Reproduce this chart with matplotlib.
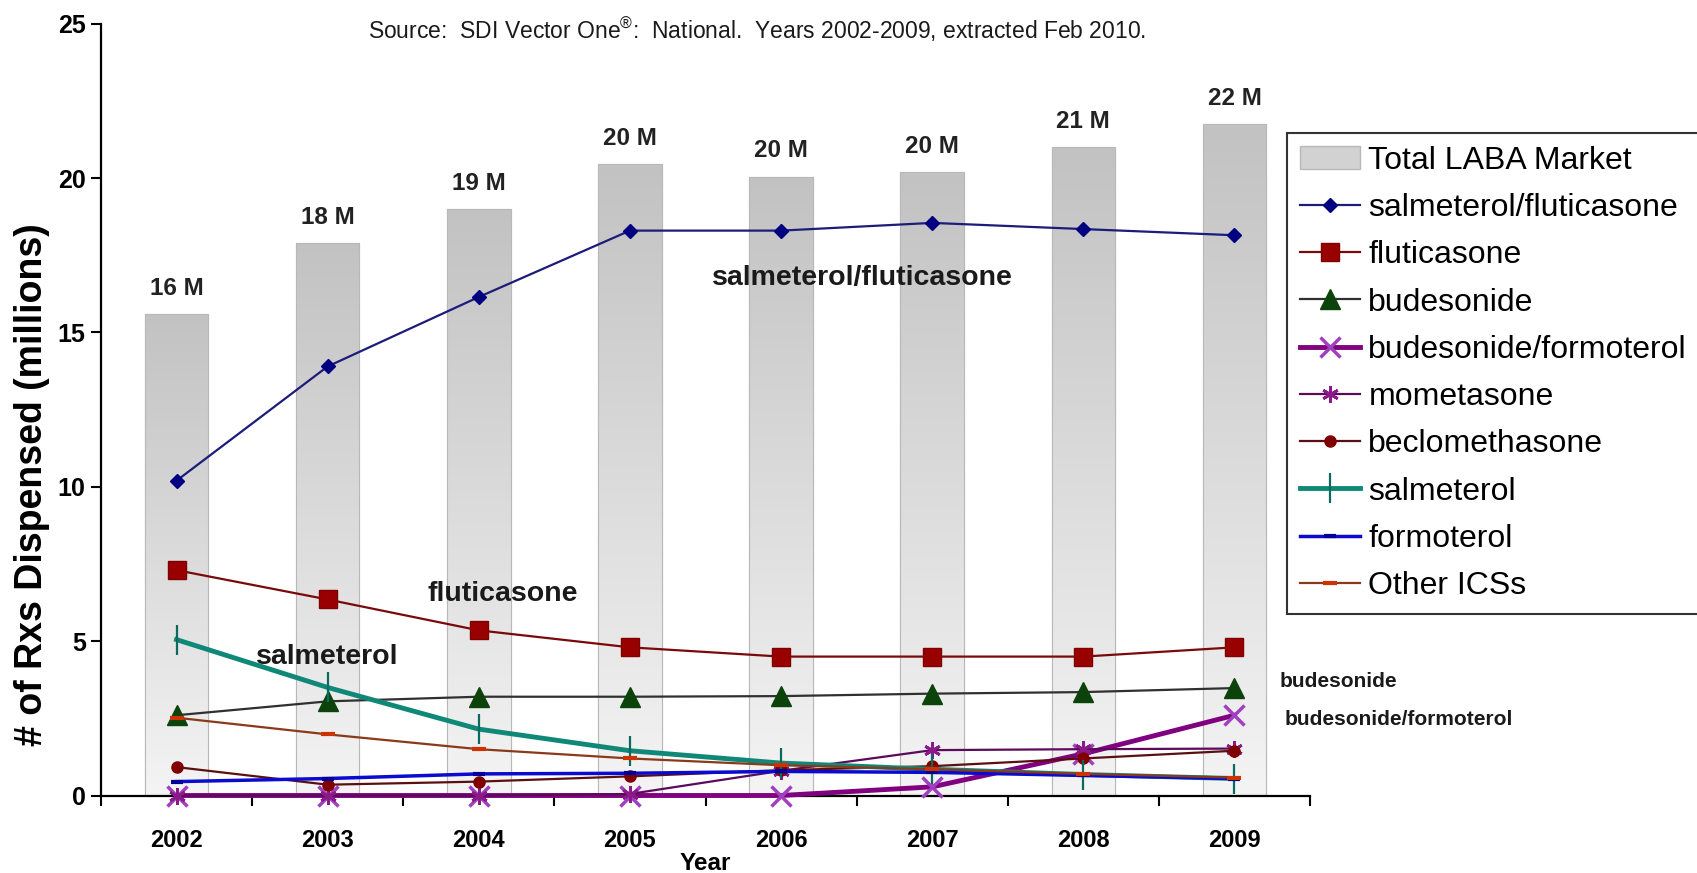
import numpy as np
import matplotlib
matplotlib.use("Agg")
import matplotlib.pyplot as plt
from matplotlib.patches import Patch

plt.rcParams['font.family'] = ['Liberation Sans', 'DejaVu Sans']
plt.rcParams['mathtext.fontset'] = 'custom'
plt.rcParams['mathtext.rm'] = 'Liberation Sans'

# ---- data (millions of prescriptions dispensed) ----
years = ['2002', '2003', '2004', '2005', '2006', '2007', '2008', '2009']
total_laba = [15.6, 17.9, 19.0, 20.45, 20.05, 20.2, 21.0, 21.75]
salmeterol_fluticasone = [10.2, 13.9, 16.15, 18.3, 18.3, 18.55, 18.35, 18.15]
fluticasone = [7.3, 6.35, 5.35, 4.8, 4.5, 4.5, 4.5, 4.8]
budesonide = [2.6, 3.05, 3.2, 3.2, 3.22, 3.3, 3.35, 3.48]
budesonide_formoterol = [0.0, 0.0, 0.0, 0.0, 0.0, 0.28, 1.35, 2.6]
mometasone = [0.0, 0.0, 0.0, 0.05, 0.8, 1.47, 1.5, 1.52]
beclomethasone = [0.92, 0.35, 0.45, 0.62, 0.82, 0.95, 1.2, 1.45]
salmeterol = [5.05, 3.5, 2.15, 1.45, 1.05, 0.85, 0.68, 0.55]
formoterol = [0.45, 0.55, 0.7, 0.72, 0.78, 0.75, 0.65, 0.55]
other_ics = [2.52, 1.98, 1.5, 1.2, 0.98, 0.85, 0.7, 0.58]

W, H = 1697, 873
fig = plt.figure(figsize=(W / 100, H / 100), dpi=100)
ax = fig.add_axes([101 / W, 1 - 795.5 / H, (1310 - 101) / W, (795.5 - 23.8) / H])

x = np.arange(len(years))

# ---- total market bars with a vertical grey gradient ----
bars = ax.bar(x, total_laba, width=0.42, color='#c8c8c8', edgecolor='#b8b8b8',
              linewidth=0.8, zorder=1)
grad = np.linspace(0, 1, 256).reshape(-1, 1)
cmap = matplotlib.colors.LinearSegmentedColormap.from_list('g', ['#c2c2c2', '#f4f4f4'])
for b in bars:
    x0, w, h = b.get_x(), b.get_width(), b.get_height()
    im = ax.imshow(grad, cmap=cmap, aspect='auto', extent=[x0, x0 + w, 0, h],
                   origin='upper', zorder=1.1, interpolation='bicubic')
    im.set_clip_path(b)
    ax.bar(b.get_x() + w / 2, h, width=w, facecolor='none', edgecolor='#b8b8b8',
           linewidth=0.8, zorder=1.2)

for xi, v in zip(x, total_laba):
    ax.annotate(f"{v:.0f} M", (xi, v), xytext=(0, 14), textcoords='offset points',
                ha='center', va='baseline', fontsize=17.5, fontweight='bold', color='#222222')

# ---- drug series ----
series = [
    ('salmeterol/fluticasone', salmeterol_fluticasone,
     dict(color='#1c1c7a', lw=1.6, marker='D', ms=7, mfc='#000080', mec='#000080')),
    ('fluticasone', fluticasone,
     dict(color='#7a0a0a', lw=1.6, marker='s', ms=13, mfc='#990000', mec='#800000')),
    ('budesonide', budesonide,
     dict(color='#303030', lw=1.6, marker='^', ms=14, mfc='#0b430b', mec='#0b430b')),
    ('budesonide/formoterol', budesonide_formoterol,
     dict(color='#800080', lw=3.5, marker='x', ms=14, mew=2.5, mfc='#a040c0', mec='#a040c0')),
    ('mometasone', mometasone,
     dict(color='#5c0a5c', lw=1.6, marker=(6, 2, 0), ms=12, mew=2, mfc='#8a1a8a', mec='#8a1a8a')),
    ('beclomethasone', beclomethasone,
     dict(color='#5a1010', lw=1.6, marker='o', ms=8, mfc='#800000', mec='#800000')),
    ('salmeterol', salmeterol,
     dict(color='#108878', lw=3.5, marker='|', ms=22, mew=1.6, mfc='#0a6a60', mec='#0a6a60')),
    ('formoterol', formoterol,
     dict(color='#0a0ad0', lw=2.5, marker='_', ms=8, mew=3, mfc='#000099', mec='#000099')),
    ('Other ICSs', other_ics,
     dict(color='#8a3a1a', lw=1.6, marker='_', ms=10, mew=3, mfc='#cc3300', mec='#cc3300')),
]

handles = [Patch(facecolor='#d2d2d2', edgecolor='#b8b8b8', label='Total LABA Market')]
for name, vals, st in series:
    ln, = ax.plot(x, vals, label=name, zorder=3, clip_on=False, **st)
    handles.append(ln)

# ---- inline series labels ----
lab = dict(fontsize=20.5, fontweight='bold', color='#1a1a1a', ha='center', va='center', zorder=5)
ax.text(4.54, 16.76, 'salmeterol/fluticasone', **lab)
ax.text(2.16, 6.52, 'fluticasone', **lab)
ax.text(1.0, 4.49, 'salmeterol', **lab)
side = dict(fontsize=15, fontweight='bold', color='#1a1a1a', ha='left', va='center',
            clip_on=False, zorder=5)
ax.text(7.30, 3.68, 'budesonide', **side)
ax.text(7.33, 2.46, 'budesonide/formoterol', **side)

# ---- axes ----
ax.set_xlim(-0.5, 7.5)
ax.set_ylim(0, 25)
ax.set_yticks([0, 5, 10, 15, 20, 25])
ax.set_xticks(x)
ax.set_xticklabels(years)
ax.set_xticks(np.arange(-0.5, 8.0, 1.0), minor=True)
ax.tick_params(axis='x', which='major', length=0, pad=24, labelsize=17)
ax.tick_params(axis='x', which='minor', length=7, width=1.5, direction='out')
ax.tick_params(axis='y', length=7, width=1.5, pad=4, labelsize=18)
for lbl in ax.get_xticklabels() + ax.get_yticklabels():
    lbl.set_fontweight('bold')
for s in ('top', 'right'):
    ax.spines[s].set_visible(False)
for s in ('left', 'bottom'):
    ax.spines[s].set_linewidth(1.6)
    ax.spines[s].set_zorder(2.5)
ax.patch.set_alpha(0)

ax.set_xlabel('Year', fontsize=17.5, fontweight='bold')
ax.xaxis.set_label_coords(0.5, -(863 - 795.5) / (795.5 - 23.8))
ax.xaxis.label.set_va('center')

fig.text(32 / W, 1 - 485 / H, '# of Rxs Dispensed (millions)', rotation=90,
         fontsize=27, fontweight='bold', ha='center', va='center')

fig.text(757 / W, 1 - 30 / H,
         'Source:  SDI Vector One$^{®}$:  National.  Years 2002-2009, extracted Feb 2010.',
         fontsize=16.5, ha='center', va='center', color='#1a1a1a')

leg = fig.legend(handles=handles, loc='upper left', bbox_to_anchor=(1287 / W, 1 - 133 / H),
                 bbox_transform=fig.transFigure, fontsize=23, frameon=True, fancybox=False,
                 borderaxespad=0, handlelength=1.9, handletextpad=0.25, labelspacing=0.54,
                 borderpad=0.4)
leg.get_frame().set_edgecolor('black')
leg.get_frame().set_linewidth(1.5)

fig.savefig('out.png', dpi=100, facecolor='white')
